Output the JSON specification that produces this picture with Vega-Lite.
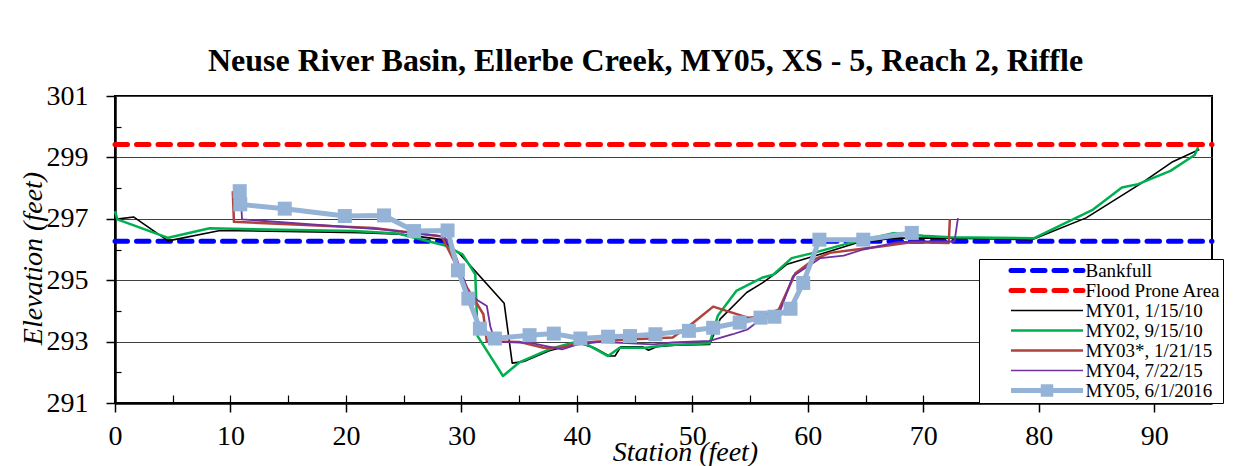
{
  "$schema": "https://vega.github.io/schema/vega-lite/v6.json",
  "width": 1097,
  "height": 307,
  "autosize": {"type": "none"},
  "padding": {"left": 115, "top": 96, "right": 32, "bottom": 63},
  "background": "white",
  "config": {
    "font": "Liberation Serif",
    "view": {"stroke": "black", "strokeWidth": 2},
    "axis": {"labelFont": "Liberation Serif", "titleFont": "Liberation Serif", "labelColor": "black", "titleColor": "black"}
  },
  "title": {
    "text": "Neuse River Basin, Ellerbe Creek, MY05, XS - 5, Reach 2, Riffle",
    "font": "Liberation Serif",
    "fontSize": 32,
    "fontWeight": "bold",
    "color": "black",
    "anchor": "middle",
    "dx": -18,
    "dy": 45,
    "offset": 24,
    "baseline": "alphabetic"
  },
  "data": {
    "values": [
      {"series": "Bankfull", "station": 0, "elevation": 296.27},
      {"series": "Bankfull", "station": 95, "elevation": 296.27},
      {"series": "Flood Prone Area", "station": 0, "elevation": 299.42},
      {"series": "Flood Prone Area", "station": 95, "elevation": 299.42},

      {"series": "MY01, 1/15/10", "station": 0, "elevation": 296.98},
      {"series": "MY01, 1/15/10", "station": 1.6, "elevation": 297.06},
      {"series": "MY01, 1/15/10", "station": 4.6, "elevation": 296.28},
      {"series": "MY01, 1/15/10", "station": 9.1, "elevation": 296.62},
      {"series": "MY01, 1/15/10", "station": 21.2, "elevation": 296.55},
      {"series": "MY01, 1/15/10", "station": 24.7, "elevation": 296.5},
      {"series": "MY01, 1/15/10", "station": 28.2, "elevation": 296.33},
      {"series": "MY01, 1/15/10", "station": 29.9, "elevation": 295.84},
      {"series": "MY01, 1/15/10", "station": 33.7, "elevation": 294.25},
      {"series": "MY01, 1/15/10", "station": 34.4, "elevation": 292.3},
      {"series": "MY01, 1/15/10", "station": 35.4, "elevation": 292.35},
      {"series": "MY01, 1/15/10", "station": 37.6, "elevation": 292.7},
      {"series": "MY01, 1/15/10", "station": 38.6, "elevation": 292.8},
      {"series": "MY01, 1/15/10", "station": 40.2, "elevation": 292.95},
      {"series": "MY01, 1/15/10", "station": 41.5, "elevation": 292.8},
      {"series": "MY01, 1/15/10", "station": 42.8, "elevation": 292.53},
      {"series": "MY01, 1/15/10", "station": 43.3, "elevation": 292.53},
      {"series": "MY01, 1/15/10", "station": 43.8, "elevation": 292.83},
      {"series": "MY01, 1/15/10", "station": 45.7, "elevation": 292.83},
      {"series": "MY01, 1/15/10", "station": 46.2, "elevation": 292.72},
      {"series": "MY01, 1/15/10", "station": 46.9, "elevation": 292.83},
      {"series": "MY01, 1/15/10", "station": 48.5, "elevation": 292.88},
      {"series": "MY01, 1/15/10", "station": 51.5, "elevation": 292.91},
      {"series": "MY01, 1/15/10", "station": 52.4, "elevation": 293.73},
      {"series": "MY01, 1/15/10", "station": 54.7, "elevation": 294.6},
      {"series": "MY01, 1/15/10", "station": 56.1, "elevation": 294.92},
      {"series": "MY01, 1/15/10", "station": 57.3, "elevation": 295.25},
      {"series": "MY01, 1/15/10", "station": 58.2, "elevation": 295.52},
      {"series": "MY01, 1/15/10", "station": 60.5, "elevation": 295.78},
      {"series": "MY01, 1/15/10", "station": 64.2, "elevation": 296.21},
      {"series": "MY01, 1/15/10", "station": 67.4, "elevation": 296.37},
      {"series": "MY01, 1/15/10", "station": 72.3, "elevation": 296.37},
      {"series": "MY01, 1/15/10", "station": 79.4, "elevation": 296.32},
      {"series": "MY01, 1/15/10", "station": 84.1, "elevation": 297.03},
      {"series": "MY01, 1/15/10", "station": 88.9, "elevation": 298.16},
      {"series": "MY01, 1/15/10", "station": 91.6, "elevation": 298.86},
      {"series": "MY01, 1/15/10", "station": 93.9, "elevation": 299.26},

      {"series": "MY02, 9/15/10", "station": 0, "elevation": 297.25},
      {"series": "MY02, 9/15/10", "station": 0.2, "elevation": 296.98},
      {"series": "MY02, 9/15/10", "station": 4.6, "elevation": 296.38},
      {"series": "MY02, 9/15/10", "station": 8.2, "elevation": 296.69},
      {"series": "MY02, 9/15/10", "station": 20.7, "elevation": 296.6},
      {"series": "MY02, 9/15/10", "station": 24.5, "elevation": 296.52},
      {"series": "MY02, 9/15/10", "station": 28.5, "elevation": 296.14},
      {"series": "MY02, 9/15/10", "station": 30.1, "elevation": 295.84},
      {"series": "MY02, 9/15/10", "station": 31.2, "elevation": 295.19},
      {"series": "MY02, 9/15/10", "station": 31.4, "elevation": 293.18},
      {"series": "MY02, 9/15/10", "station": 33.6, "elevation": 291.88},
      {"series": "MY02, 9/15/10", "station": 35.0, "elevation": 292.32},
      {"series": "MY02, 9/15/10", "station": 37.6, "elevation": 292.75},
      {"series": "MY02, 9/15/10", "station": 40.2, "elevation": 293.02},
      {"series": "MY02, 9/15/10", "station": 41.1, "elevation": 292.86},
      {"series": "MY02, 9/15/10", "station": 42.7, "elevation": 292.53},
      {"series": "MY02, 9/15/10", "station": 43.7, "elevation": 292.8},
      {"series": "MY02, 9/15/10", "station": 46.0, "elevation": 292.8},
      {"series": "MY02, 9/15/10", "station": 47.6, "elevation": 292.88},
      {"series": "MY02, 9/15/10", "station": 51.5, "elevation": 292.95},
      {"series": "MY02, 9/15/10", "station": 52.2, "elevation": 293.84},
      {"series": "MY02, 9/15/10", "station": 53.8, "elevation": 294.65},
      {"series": "MY02, 9/15/10", "station": 56.1, "elevation": 295.09},
      {"series": "MY02, 9/15/10", "station": 57.0, "elevation": 295.18},
      {"series": "MY02, 9/15/10", "station": 58.6, "elevation": 295.72},
      {"series": "MY02, 9/15/10", "station": 60.5, "elevation": 295.89},
      {"series": "MY02, 9/15/10", "station": 63.4, "elevation": 296.19},
      {"series": "MY02, 9/15/10", "station": 67.4, "elevation": 296.53},
      {"series": "MY02, 9/15/10", "station": 70.0, "elevation": 296.45},
      {"series": "MY02, 9/15/10", "station": 72.3, "elevation": 296.4},
      {"series": "MY02, 9/15/10", "station": 79.6, "elevation": 296.37},
      {"series": "MY02, 9/15/10", "station": 84.7, "elevation": 297.3},
      {"series": "MY02, 9/15/10", "station": 87.2, "elevation": 298.02},
      {"series": "MY02, 9/15/10", "station": 88.6, "elevation": 298.13},
      {"series": "MY02, 9/15/10", "station": 91.4, "elevation": 298.56},
      {"series": "MY02, 9/15/10", "station": 93.5, "elevation": 299.08},
      {"series": "MY02, 9/15/10", "station": 93.8, "elevation": 299.34},

      {"series": "MY03*, 1/21/15", "station": 10.2, "elevation": 297.9},
      {"series": "MY03*, 1/21/15", "station": 10.3, "elevation": 296.9},
      {"series": "MY03*, 1/21/15", "station": 22.4, "elevation": 296.7},
      {"series": "MY03*, 1/21/15", "station": 28.3, "elevation": 296.42},
      {"series": "MY03*, 1/21/15", "station": 29.3, "elevation": 295.68},
      {"series": "MY03*, 1/21/15", "station": 30.5, "elevation": 294.75},
      {"series": "MY03*, 1/21/15", "station": 31.9, "elevation": 293.89},
      {"series": "MY03*, 1/21/15", "station": 32.2, "elevation": 293.0},
      {"series": "MY03*, 1/21/15", "station": 35.0, "elevation": 292.99},
      {"series": "MY03*, 1/21/15", "station": 37.1, "elevation": 292.8},
      {"series": "MY03*, 1/21/15", "station": 38.5, "elevation": 292.8},
      {"series": "MY03*, 1/21/15", "station": 40.5, "elevation": 292.97},
      {"series": "MY03*, 1/21/15", "station": 44.9, "elevation": 293.08},
      {"series": "MY03*, 1/21/15", "station": 48.3, "elevation": 293.13},
      {"series": "MY03*, 1/21/15", "station": 50.1, "elevation": 293.62},
      {"series": "MY03*, 1/21/15", "station": 51.8, "elevation": 294.14},
      {"series": "MY03*, 1/21/15", "station": 54.8, "elevation": 293.78},
      {"series": "MY03*, 1/21/15", "station": 55.9, "elevation": 293.8},
      {"series": "MY03*, 1/21/15", "station": 57.5, "elevation": 294.05},
      {"series": "MY03*, 1/21/15", "station": 58.9, "elevation": 295.22},
      {"series": "MY03*, 1/21/15", "station": 60.5, "elevation": 295.67},
      {"series": "MY03*, 1/21/15", "station": 61.9, "elevation": 295.89},
      {"series": "MY03*, 1/21/15", "station": 64.2, "elevation": 296.0},
      {"series": "MY03*, 1/21/15", "station": 66.3, "elevation": 296.1},
      {"series": "MY03*, 1/21/15", "station": 69.1, "elevation": 296.24},
      {"series": "MY03*, 1/21/15", "station": 72.2, "elevation": 296.21},
      {"series": "MY03*, 1/21/15", "station": 72.3, "elevation": 296.99},

      {"series": "MY04, 7/22/15", "station": 10.9, "elevation": 297.7},
      {"series": "MY04, 7/22/15", "station": 11.0, "elevation": 296.98},
      {"series": "MY04, 7/22/15", "station": 23.3, "elevation": 296.65},
      {"series": "MY04, 7/22/15", "station": 28.5, "elevation": 296.43},
      {"series": "MY04, 7/22/15", "station": 29.5, "elevation": 295.8},
      {"series": "MY04, 7/22/15", "station": 30.6, "elevation": 294.6},
      {"series": "MY04, 7/22/15", "station": 31.4, "elevation": 294.35},
      {"series": "MY04, 7/22/15", "station": 32.2, "elevation": 294.16},
      {"series": "MY04, 7/22/15", "station": 32.5, "elevation": 293.5},
      {"series": "MY04, 7/22/15", "station": 32.9, "elevation": 293.0},
      {"series": "MY04, 7/22/15", "station": 36.0, "elevation": 292.96},
      {"series": "MY04, 7/22/15", "station": 38.7, "elevation": 292.75},
      {"series": "MY04, 7/22/15", "station": 40.0, "elevation": 292.9},
      {"series": "MY04, 7/22/15", "station": 42.0, "elevation": 292.99},
      {"series": "MY04, 7/22/15", "station": 46.6, "elevation": 292.91},
      {"series": "MY04, 7/22/15", "station": 48.3, "elevation": 292.97},
      {"series": "MY04, 7/22/15", "station": 51.5, "elevation": 293.02},
      {"series": "MY04, 7/22/15", "station": 53.5, "elevation": 293.24},
      {"series": "MY04, 7/22/15", "station": 54.8, "elevation": 293.4},
      {"series": "MY04, 7/22/15", "station": 56.1, "elevation": 293.78},
      {"series": "MY04, 7/22/15", "station": 57.6, "elevation": 294.0},
      {"series": "MY04, 7/22/15", "station": 58.7, "elevation": 295.13},
      {"series": "MY04, 7/22/15", "station": 61.1, "elevation": 295.72},
      {"series": "MY04, 7/22/15", "station": 63.1, "elevation": 295.8},
      {"series": "MY04, 7/22/15", "station": 64.8, "elevation": 296.0},
      {"series": "MY04, 7/22/15", "station": 67.7, "elevation": 296.23},
      {"series": "MY04, 7/22/15", "station": 69.1, "elevation": 296.26},
      {"series": "MY04, 7/22/15", "station": 72.7, "elevation": 296.26},
      {"series": "MY04, 7/22/15", "station": 73.0, "elevation": 297.02},

      {"series": "MY05, 6/1/2016", "station": 10.8, "elevation": 297.9},
      {"series": "MY05, 6/1/2016", "station": 10.85, "elevation": 297.47},
      {"series": "MY05, 6/1/2016", "station": 14.7, "elevation": 297.33},
      {"series": "MY05, 6/1/2016", "station": 19.9, "elevation": 297.09},
      {"series": "MY05, 6/1/2016", "station": 23.3, "elevation": 297.11},
      {"series": "MY05, 6/1/2016", "station": 25.9, "elevation": 296.6},
      {"series": "MY05, 6/1/2016", "station": 28.8, "elevation": 296.62},
      {"series": "MY05, 6/1/2016", "station": 29.7, "elevation": 295.32},
      {"series": "MY05, 6/1/2016", "station": 30.6, "elevation": 294.4},
      {"series": "MY05, 6/1/2016", "station": 31.6, "elevation": 293.42},
      {"series": "MY05, 6/1/2016", "station": 32.9, "elevation": 293.1},
      {"series": "MY05, 6/1/2016", "station": 35.9, "elevation": 293.21},
      {"series": "MY05, 6/1/2016", "station": 38.0, "elevation": 293.26},
      {"series": "MY05, 6/1/2016", "station": 40.3, "elevation": 293.1},
      {"series": "MY05, 6/1/2016", "station": 42.7, "elevation": 293.16},
      {"series": "MY05, 6/1/2016", "station": 44.6, "elevation": 293.18},
      {"series": "MY05, 6/1/2016", "station": 46.8, "elevation": 293.24},
      {"series": "MY05, 6/1/2016", "station": 49.7, "elevation": 293.35},
      {"series": "MY05, 6/1/2016", "station": 51.8, "elevation": 293.45},
      {"series": "MY05, 6/1/2016", "station": 54.1, "elevation": 293.62},
      {"series": "MY05, 6/1/2016", "station": 55.9, "elevation": 293.78},
      {"series": "MY05, 6/1/2016", "station": 57.1, "elevation": 293.81},
      {"series": "MY05, 6/1/2016", "station": 58.5, "elevation": 294.07},
      {"series": "MY05, 6/1/2016", "station": 59.6, "elevation": 294.91},
      {"series": "MY05, 6/1/2016", "station": 61.0, "elevation": 296.32},
      {"series": "MY05, 6/1/2016", "station": 64.8, "elevation": 296.32},
      {"series": "MY05, 6/1/2016", "station": 69.0, "elevation": 296.54}
    ]
  },
  "resolve": {"axis": {"x": "independent", "y": "independent"}},
  "layer": [
    {
      "transform": [{"filter": {"field": "series", "oneOf": ["Bankfull", "Flood Prone Area"]}}],
      "mark": {"type": "line", "strokeWidth": 5, "strokeDash": [12.5, 9], "strokeCap": "round"},
      "encoding": {
        "x": {
          "field": "station", "type": "quantitative",
          "scale": {"domain": [0, 95], "nice": false, "zero": false},
          "axis": {
            "orient": "bottom", "values": [0, 10, 20, 30, 40, 50, 60, 70, 80, 90],
            "title": "Station (feet)", "titleFontStyle": "italic", "titleFontWeight": "normal", "titleFontSize": 28,
            "titleX": 570, "titleY": 57, "titleBaseline": "alphabetic", "titleAlign": "center",
            "labelFontSize": 28, "labelPadding": 10, "labelFlush": false,
            "tickSize": 9, "tickColor": "black", "tickWidth": 1.5,
            "domainColor": "black", "domainWidth": 2.5, "grid": false
          }
        },
        "y": {
          "field": "elevation", "type": "quantitative",
          "scale": {"domain": [291, 301], "nice": false, "zero": false},
          "axis": {
            "orient": "left", "values": [291, 293, 295, 297, 299, 301],
            "title": "Elevation (feet)", "titleFontStyle": "italic", "titleFontWeight": "normal", "titleFontSize": 28,
            "titleX": -82, "titleY": 162, "titleBaseline": "middle", "titleAlign": "center", "titleAngle": -90,
            "labelFontSize": 28, "labelPadding": 18, "labelFlush": false,
            "tickSize": 9, "tickColor": "black", "tickWidth": 1.5,
            "domainColor": "black", "domainWidth": 2.5,
            "grid": true, "gridColor": "#404040", "gridWidth": 1
          }
        },
        "color": {
          "field": "series", "type": "nominal",
          "scale": {
            "domain": ["Bankfull", "Flood Prone Area", "MY01, 1/15/10", "MY02, 9/15/10", "MY03*, 1/21/15", "MY04, 7/22/15", "MY05, 6/1/2016"],
            "range": ["#0000FF", "#FF0000", "#000000", "#00B050", "#B0423E", "#7030A0", "#95B3D7"]
          },
          "legend": {
            "orient": "none", "legendX": 864, "legendY": 163, "title": null,
            "padding": 2, "fillColor": "white", "strokeColor": "black",
            "labelFont": "Liberation Serif", "labelFontSize": 19, "labelColor": "black", "labelLimit": 300,
            "symbolSize": 100, "symbolOffset": 56.5, "labelOffset": 29, "rowPadding": -1.7,
            "symbolType": "stroke",
            "encode": {
              "symbols": {
                "update": {
                  "shape": {"signal": "datum.value === 'MY05, 6/1/2016' ? 'M-7.2,-0.5H7.2V0.5H-7.2ZM-1.25,-1.25H1.25V1.25H-1.25Z' : 'M-7.2,0H7.2'"},
                  "strokeDash": {"signal": "(datum.value === 'Bankfull' || datum.value === 'Flood Prone Area') ? [12.5, 9] : [1, 0]"},
                  "strokeCap": {"signal": "(datum.value === 'Bankfull' || datum.value === 'Flood Prone Area') ? 'round' : 'butt'"},
                  "strokeJoin": {"signal": "'round'"},
                  "strokeWidth": {"signal": "(datum.value === 'Bankfull' || datum.value === 'Flood Prone Area') ? 5 : (datum.value === 'MY05, 6/1/2016' ? 0 : ((datum.value === 'MY02, 9/15/10' || datum.value === 'MY03*, 1/21/15') ? 2.5 : 1.6))"},
                  "fill": {"signal": "datum.value === 'MY05, 6/1/2016' ? '#95B3D7' : 'transparent'"},
                  "stroke": {"signal": "datum.value === 'MY05, 6/1/2016' ? 'transparent' : scale('color', datum.value)"},
                  "opacity": {"signal": "1"}
                }
              }
            }
          }
        }
      }
    },
    {
      "transform": [{"filter": {"field": "series", "equal": "MY01, 1/15/10"}}],
      "mark": {"type": "line", "strokeWidth": 1.6, "strokeJoin": "round"},
      "encoding": {
        "x": {
          "field": "station", "type": "quantitative",
          "axis": {
            "orient": "bottom", "values": [0, 5, 10, 15, 20, 25, 30, 35, 40, 45, 50, 55, 60, 65, 70, 75, 80, 85, 90],
            "labels": false, "domain": false, "grid": false, "title": null,
            "tickSize": -8, "tickColor": "black", "tickWidth": 1.2
          }
        },
        "y": {
          "field": "elevation", "type": "quantitative",
          "axis": {
            "orient": "left", "values": [292, 294, 296, 298, 300],
            "labels": false, "domain": false, "grid": false, "title": null,
            "tickSize": -6, "tickColor": "black", "tickWidth": 1.2
          }
        },
        "color": {"field": "series", "type": "nominal"}
      }
    },
    {
      "transform": [{"filter": {"field": "series", "equal": "MY02, 9/15/10"}}],
      "mark": {"type": "line", "strokeWidth": 2.5, "strokeJoin": "round"},
      "encoding": {
        "x": {"field": "station", "type": "quantitative", "axis": null},
        "y": {"field": "elevation", "type": "quantitative", "axis": null},
        "color": {"field": "series", "type": "nominal"}
      }
    },
    {
      "transform": [{"filter": {"field": "series", "equal": "MY03*, 1/21/15"}}],
      "mark": {"type": "line", "strokeWidth": 2.5, "strokeJoin": "round"},
      "encoding": {
        "x": {"field": "station", "type": "quantitative", "axis": null},
        "y": {"field": "elevation", "type": "quantitative", "axis": null},
        "color": {"field": "series", "type": "nominal"}
      }
    },
    {
      "transform": [{"filter": {"field": "series", "equal": "MY04, 7/22/15"}}],
      "mark": {"type": "line", "strokeWidth": 1.8, "strokeJoin": "round"},
      "encoding": {
        "x": {"field": "station", "type": "quantitative", "axis": null},
        "y": {"field": "elevation", "type": "quantitative", "axis": null},
        "color": {"field": "series", "type": "nominal"}
      }
    },
    {
      "transform": [{"filter": {"field": "series", "equal": "MY05, 6/1/2016"}}],
      "mark": {"type": "line", "strokeWidth": 5, "strokeJoin": "round"},
      "encoding": {
        "x": {"field": "station", "type": "quantitative", "axis": null},
        "y": {"field": "elevation", "type": "quantitative", "axis": null},
        "color": {"field": "series", "type": "nominal"}
      }
    },
    {
      "transform": [{"filter": {"field": "series", "equal": "MY05, 6/1/2016"}}],
      "mark": {"type": "point", "shape": "square", "filled": true, "size": 196, "opacity": 1},
      "encoding": {
        "x": {"field": "station", "type": "quantitative", "axis": null},
        "y": {"field": "elevation", "type": "quantitative", "axis": null},
        "color": {"field": "series", "type": "nominal"}
      }
    }
  ]
}
